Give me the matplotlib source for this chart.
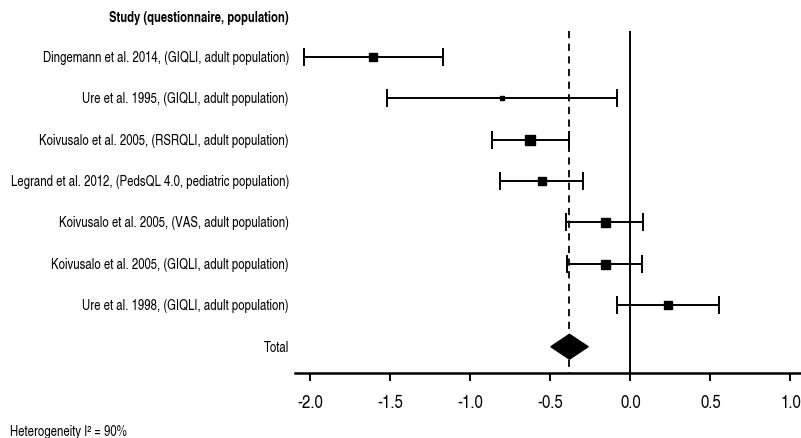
import matplotlib
matplotlib.use('Agg')
import matplotlib.pyplot as plt
import matplotlib.transforms as mtransforms
from matplotlib.patches import Polygon
from matplotlib import font_manager

# studies, effect estimates and 95% CI
studies = ['Dingemann et al. 2014, (GIQLI, adult population)',
           'Ure et al. 1995, (GIQLI, adult population)',
           'Koivusalo et al. 2005, (RSRQLI, adult population)',
           'Legrand et al. 2012, (PedsQL 4.0, pediatric population)',
           'Koivusalo et al. 2005, (VAS, adult population)',
           'Koivusalo et al. 2005, (GIQLI, adult population)',
           'Ure et al. 1998, (GIQLI, adult population)']
est = [-1.61, -0.80, -0.625, -0.552, -0.158, -0.158, 0.236]
lo = [-2.04, -1.52, -0.862, -0.816, -0.40, -0.394, -0.085]
hi = [-1.169, -0.085, -0.385, -0.294, 0.079, 0.073, 0.556]
weight = [8, 5, 10, 8, 9, 9, 8]  # square size in px

total_est = -0.381
total_lo = -0.497
total_hi = -0.264
xticks = [-2.0, -1.5, -1.0, -0.5, 0.0, 0.5, 1.0]

# narrow Arial-like font if there is one, else plain Liberation Sans
names = set(f.name for f in font_manager.fontManager.ttflist)
fam = 'Liberation Sans'
for cand in ['Liberation Sans Narrow', 'Arial Narrow', 'Nimbus Sans Narrow',
             'TeX Gyre Heros Cn', 'Pragati Narrow', 'Roboto Condensed',
             'PT Sans Narrow', 'Archivo Narrow']:
    if cand in names:
        fam = cand
        break
plt.rcParams['font.family'] = [fam, 'DejaVu Sans']

W, H = 801, 439
fig = plt.figure(figsize=(W / 100, H / 100), dpi=100)
renderer = fig.canvas.get_renderer()


def fit_size(s, target_px, size=10, weight='normal'):
    # font size that gives the text the width it has in the picture
    t = fig.text(0, 0, s, fontsize=size, fontweight=weight)
    w = t.get_window_extent(renderer).width
    t.remove()
    return size * target_px / w


lab_fs = fit_size(studies[0], 247)
head_fs = fit_size('Study (questionnaire, population)', 179, weight='bold')
tick_fs = fit_size('-2.0', 26)
het_fs = fit_size('Heterogeneity I² = 90%', 117)

ax = fig.add_axes([295 / W, (H - 373.7) / H, (W - 295) / W, 373.7 / H])
ax.set_xlim(-2.096, 1.066)
ax.set_ylim(7.627, -1.393)

for s in ['top', 'right', 'left']:
    ax.spines[s].set_visible(False)
ax.spines['bottom'].set_linewidth(1.8)
ax.set_yticks([])
ax.set_xticks(xticks)
ax.set_xticklabels([f'{t:.1f}' for t in xticks], fontsize=tick_fs)
ax.tick_params(axis='x', length=6, width=1.4, pad=9)

# reference lines
ax.plot([0, 0], [-0.63, 7.627], color='black', lw=1.4, solid_capstyle='butt')
ax.plot([total_est, total_est], [-0.63, 7.627], color='black', lw=1.3,
        ls=(0, (4, 3)))

for i in range(len(studies)):
    ax.errorbar(est[i], i, xerr=[[est[i] - lo[i]], [hi[i] - est[i]]],
                fmt='s', color='black', ms=weight[i] * 0.72, elinewidth=1.4,
                capsize=6.8, capthick=1.4)

diamond = Polygon([(total_lo, 7), (total_est, 6.7), (total_hi, 7), (total_est, 7.3)],
                  closed=True, color='black')
ax.add_patch(diamond)

tr = mtransforms.blended_transform_factory(fig.transFigure, ax.transData)
for i, s in enumerate(studies + ['Total']):
    ax.text(289 / W, i, s, transform=tr, ha='right', va='center', fontsize=lab_fs)
ax.text(289 / W, -0.955, 'Study (questionnaire, population)', transform=tr,
        ha='right', va='center', fontsize=head_fs, fontweight='bold')

fig.text(10 / W, 1 - 431.7 / H, 'Heterogeneity I² = 90%', ha='left', va='center',
         fontsize=het_fs)

fig.savefig('out.png', dpi=100)
